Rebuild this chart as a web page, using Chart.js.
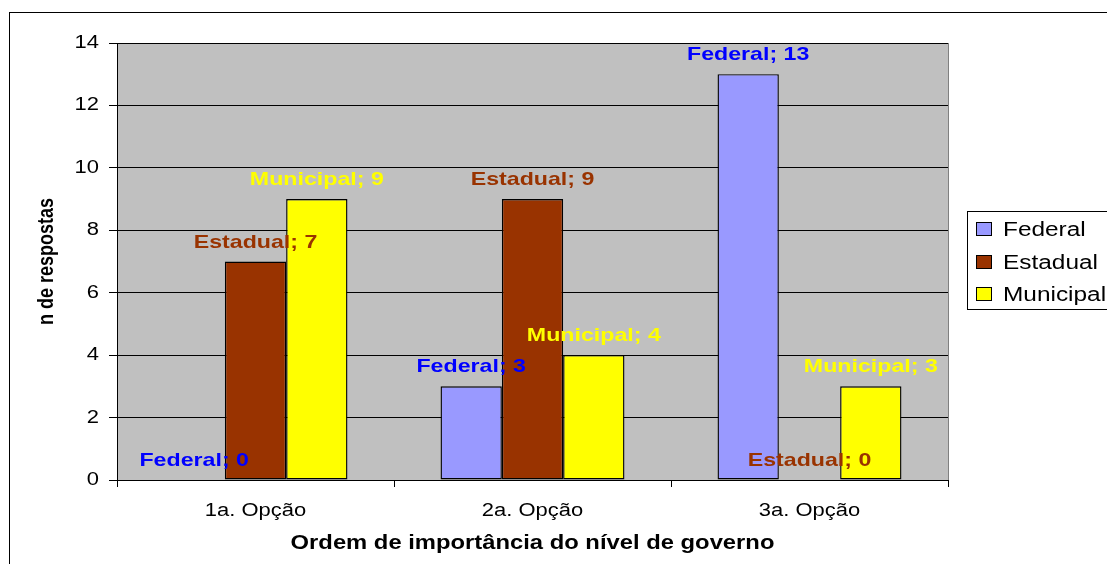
<!DOCTYPE html>
<html>
<head>
<meta charset="utf-8">
<script src="https://cdn.jsdelivr.net/npm/chart.js@4.4.1/dist/chart.umd.min.js"></script>
<style>
  html, body { margin: 0; padding: 0; background: #ffffff; }
  #c { display: block; }
</style>
</head>
<body>
<canvas id="c" width="1107" height="564"></canvas>
<script>
// ---- data ----
const categories = ['1a. Opção', '2a. Opção', '3a. Opção'];
const seriesNames = ['Federal', 'Estadual', 'Municipal'];
const federal = [0, 3, 13];
const estadual = [7, 9, 0];
const municipal = [9, 4, 3];
const yMin = 0, yMax = 14, yStep = 2;
const xTitle = 'Ordem de importância do nível de governo';
const yTitle = 'n de respostas';

// ---- styles ----
const barColors = ['#9999FF', '#993300', '#FFFF00'];
const labelColors = ['#0000FF', '#993300', '#FFFF00'];
const FONT = '"Liberation Sans", Arial, sans-serif';
const SX = 1.22; // horizontal text stretch seen in the reference

const canvas = document.getElementById('c');
const ctx = canvas.getContext('2d');
const rawFill = ctx.fillText;
ctx.fillText = function (text, x, y) {
  this.save();
  this.translate(x, y);
  const m = this.getTransform();
  if (Math.abs(m.b) > 0.5) this.scale(1, SX); else this.scale(SX, 1);
  rawFill.call(this, text, 0, 0);
  this.restore();
};

const decorPlugin = {
  id: 'decor',
  beforeDraw(chart) {
    const c = chart.ctx, a = chart.chartArea;
    c.save();
    c.fillStyle = '#ffffff';
    c.fillRect(0, 0, chart.width, chart.height);
    c.fillStyle = '#C0C0C0';
    c.fillRect(a.left, a.top, a.right - a.left, a.bottom - a.top);
    c.strokeStyle = '#000000';
    c.lineWidth = 1;
    c.strokeRect(9.5, 12.5, 1200, 700);
    c.restore();
  },
  afterDatasetsDraw(chart) {
    const c = chart.ctx;
    c.save();
    c.font = 'bold 19px ' + FONT;
    c.textAlign = 'center';
    c.textBaseline = 'alphabetic';
    chart.data.datasets.forEach((ds, i) => {
      const meta = chart.getDatasetMeta(i);
      meta.data.forEach((el, j) => {
        c.fillStyle = labelColors[i];
        c.fillText(ds.label + '; ' + ds.data[j], el.x, el.y - 14);
      });
    });
    c.restore();
  },
  afterDraw(chart) {
    const c = chart.ctx, a = chart.chartArea;
    c.save();
    // right border of plot area
    c.strokeStyle = '#808080';
    c.lineWidth = 1;
    c.beginPath();
    c.moveTo(Math.round(a.right) + 0.5, a.top);
    c.lineTo(Math.round(a.right) + 0.5, a.bottom);
    c.stroke();
    // axis titles
    c.fillStyle = '#000000';
    c.font = 'bold 19.5px ' + FONT;
    c.textAlign = 'center';
    c.textBaseline = 'alphabetic';
    c.fillText(xTitle, (a.left + a.right) / 2, 549);
    c.save();
    c.translate(47, (a.top + a.bottom) / 2);
    c.rotate(-Math.PI / 2);
    c.font = 'bold 18px ' + FONT;
    c.textBaseline = 'middle';
    c.fillText(yTitle, 0, 0);
    c.restore();
    // legend
    c.strokeStyle = '#000000';
    c.lineWidth = 1;
    c.strokeRect(967.5, 211.5, 300, 98);
    c.font = '20px ' + FONT;
    c.textAlign = 'left';
    c.textBaseline = 'middle';
    const rows = [229, 262, 294];
    seriesNames.forEach((n, i) => {
      const cy = rows[i];
      c.fillStyle = barColors[i];
      c.fillRect(976.5, cy - 6.5, 15, 13);
      c.strokeRect(976.5, cy - 6.5, 15, 13);
      c.fillStyle = '#000000';
      c.fillText(n, 1003, cy + 1);
    });
    c.restore();
  }
};

new Chart(ctx, {
  type: 'bar',
  data: {
    labels: categories,
    datasets: [
      { label: seriesNames[0], data: federal, backgroundColor: barColors[0] },
      { label: seriesNames[1], data: estadual, backgroundColor: barColors[1] },
      { label: seriesNames[2], data: municipal, backgroundColor: barColors[2] }
    ].map(d => Object.assign(d, { borderColor: '#000000', borderWidth: 1.4, borderSkipped: false }))
  },
  options: {
    responsive: false,
    animation: false,
    events: [],
    layout: { padding: { top: 43, right: 159, bottom: 0, left: 0 } },
    datasets: { bar: { barPercentage: 1, categoryPercentage: 0.664 } },
    plugins: { legend: { display: false }, tooltip: { enabled: false }, title: { display: false } },
    scales: {
      x: {
        offset: true,
        grid: { offset: true, drawOnChartArea: false, drawTicks: true, tickLength: 7, color: '#000000', lineWidth: 1 },
        border: { display: true, color: '#000000', width: 1 },
        ticks: { color: '#000000', font: { family: FONT, size: 18 }, padding: 13, maxRotation: 0 },
        afterFit(s) { s.height = 84; }
      },
      y: {
        min: yMin, max: yMax,
        grid: { color: '#000000', lineWidth: 1, drawTicks: true, tickLength: 8 },
        border: { display: true, color: '#000000', width: 1 },
        ticks: { stepSize: yStep, color: '#000000', font: { family: FONT, size: 18 }, padding: 10 },
        afterFit(s) { s.width = 117; }
      }
    }
  },
  plugins: [decorPlugin]
});
</script>
</body>
</html>
